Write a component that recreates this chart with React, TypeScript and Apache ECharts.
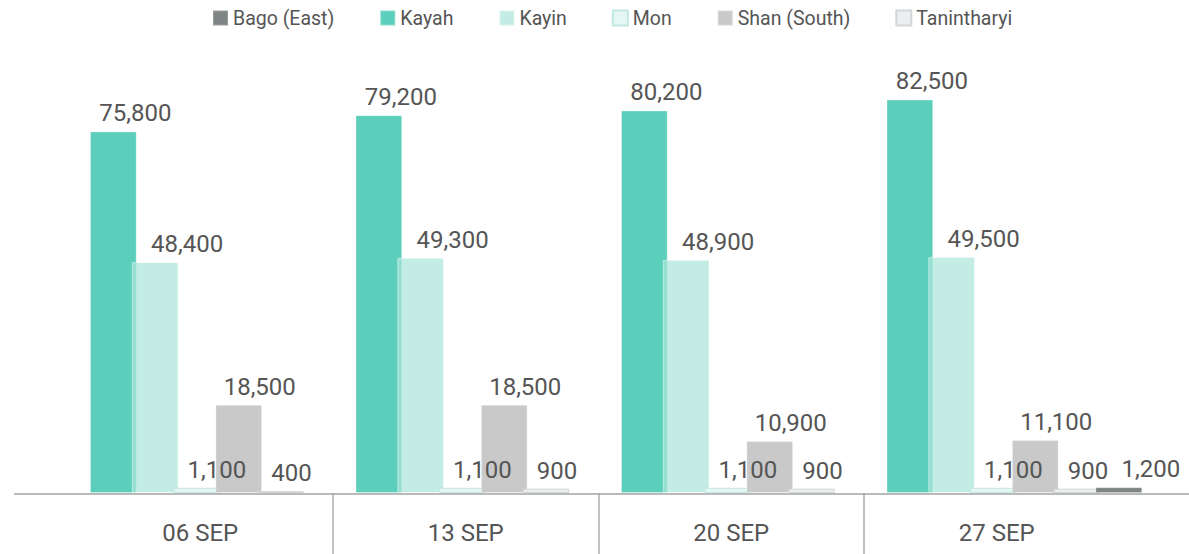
import React, { useEffect, useRef } from "react";
import * as echarts from "echarts";

const categories = ["06 SEP", "13 SEP", "20 SEP", "27 SEP"];
const legendOrder = ["Bago (East)", "Kayah", "Kayin", "Mon", "Shan (South)", "Tanintharyi"];
const kayah = [75800, 79200, 80200, 82500];
const kayin = [48400, 49300, 48900, 49500];
const mon = [1100, 1100, 1100, 1100];
const shan = [18500, 18500, 10900, 11100];
const tanintharyi = [400, 900, 900, 900];
const bago = [null, null, null, 1200];

const FONT = "Roboto";
const TEXT = "#555555";

function labelCfg(dx: number) {
  return {
    show: true,
    position: "top",
    distance: 6,
    offset: [dx, 0],
    fontFamily: FONT,
    fontSize: 24,
    color: TEXT,
    formatter: (p: any) => (p.value == null ? "" : Number(p.value).toLocaleString("en-US")),
  };
}

export default function App() {
  const ref = useRef<HTMLDivElement>(null);
  useEffect(() => {
    if (!ref.current) return;
    const chart = echarts.init(ref.current, null, { renderer: "svg" });
    const barW = 46.7;
    const common = {
      type: "bar",
      xAxisIndex: 0,
      yAxisIndex: 0,
      barWidth: barW,
      barGap: "-10.5%",
    };
    chart.setOption({
      animation: false,
      backgroundColor: "#ffffff",
      legend: {
        data: legendOrder,
        left: 207,
        top: 3,
        itemWidth: 15,
        itemHeight: 15,
        itemGap: 45,
        icon: "rect",
        textStyle: { fontFamily: FONT, fontSize: 19.5, color: TEXT },
      },
      grid: [
        { left: 85.1, width: 1062, top: 63.7, bottom: 61 },
        { left: 67.5, width: 1062, top: 493, height: 61 },
      ],
      xAxis: [
        { type: "category", gridIndex: 0, data: categories, show: false },
        {
          type: "category",
          gridIndex: 1,
          data: categories,
          position: "top",
          axisLine: { show: false },
          axisTick: { show: false },
          axisLabel: {
            inside: true,
            margin: 28,
            fontFamily: FONT,
            fontSize: 24,
            color: TEXT,
          },
          splitLine: {
            show: true,
            showMinLine: false,
            showMaxLine: false,
            lineStyle: { color: "#adadad", width: 1.5 },
          },
        },
      ],
      yAxis: [
        { type: "value", gridIndex: 0, min: 0, max: 90000, show: false, splitLine: { show: false } },
        { type: "value", gridIndex: 1, show: false, splitLine: { show: false } },
      ],
      graphic: [
        {
          type: "line",
          z: 100,
          shape: { x1: 14, y1: 494, x2: 1189, y2: 494 },
          style: { stroke: "#a3a3a3", lineWidth: 1.7 },
        },
      ],
      series: [
        {
          ...common,
          name: "Kayah",
          data: kayah,
          itemStyle: { color: "#5ccfbc", borderColor: "rgba(255,255,255,0.3)", borderWidth: 1 },
          label: labelCfg(22),
        },
        {
          ...common,
          name: "Kayin",
          data: kayin,
          itemStyle: { color: "rgba(172,229,218,0.72)", borderColor: "rgba(255,255,255,0.45)", borderWidth: 1 },
          label: labelCfg(32),
        },
        {
          ...common,
          name: "Mon",
          data: mon,
          itemStyle: { color: "#e4f7f3", borderColor: "#c3e8e1", borderWidth: 1 },
          label: labelCfg(20),
        },
        {
          ...common,
          name: "Shan (South)",
          data: shan,
          itemStyle: { color: "#c8c9c8", borderColor: "rgba(255,255,255,0.3)", borderWidth: 1 },
          label: labelCfg(21),
        },
        {
          ...common,
          name: "Tanintharyi",
          data: tanintharyi,
          itemStyle: { color: "#eceff0", borderColor: "#d3d6d7", borderWidth: 1 },
          label: labelCfg(11),
        },
        {
          ...common,
          name: "Bago (East)",
          data: bago,
          itemStyle: { color: "#7f8584", borderColor: "rgba(255,255,255,0.2)", borderWidth: 1 },
          label: labelCfg(32),
        },
      ],
    });
    return () => chart.dispose();
  }, []);
  return (
    <div
      ref={ref}
      style={{ position: "fixed", left: 0, top: 0, width: 1189, height: 554, background: "#fff" }}
    />
  );
}
